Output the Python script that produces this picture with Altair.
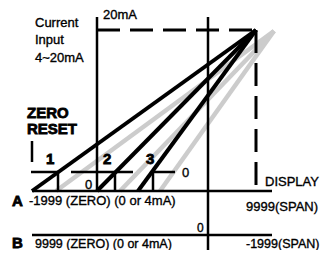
import altair as alt
import pandas as pd

# ---- diagram geometry (in diagram units) ----
axis_x1 = [97, 208, 32, 32]
axis_y1 = [17, 17, 191, 235]
axis_x2 = [97, 208, 272, 272]
axis_y2 = [191, 251, 191, 235]

zero_x1 = [31, 71, 152, 58, 115, 153, 32]
zero_y1 = [172, 172, 172, 172, 172, 172, 141]
zero_x2 = [58, 133, 175, 58, 115, 153, 32]
zero_y2 = [172, 172, 172, 191, 191, 191, 162]

dash_x1 = [97, 256]
dash_y1 = [30, 30]
dash_x2 = [256, 256]
dash_y2 = [30, 191]

black_start_x = [32, 97, 138]
black_start_y = [191, 191, 191]
black_end_x = [256, 256, 256]
black_end_y = [30, 30, 30]

gray_start_x = [56, 120, 160]
gray_start_y = [191, 191, 191]
gray_end_x = [274, 274, 274]
gray_end_y = [31, 31, 31]

plain_text = ["Current", "Input", "4~20mA", "20mA", "0", "0", "DISPLAY",
              "-1999 (ZERO) (0 or 4mA)", "9999(SPAN)", "0",
              "9999 (ZERO) (0 or 4mA)", "-1999(SPAN)"]
plain_x = [35, 35, 35, 103, 85, 182, 265, 29, 246, 197, 35, 246]
plain_y = [27, 44, 62, 19, 189, 177, 186, 205, 211, 232, 248, 248]
plain_size = [13, 13, 13, 13, 13, 13, 13, 13, 13, 12, 12.5, 12.5]

bold_text = ["ZERO", "RESET", "1", "2", "3", "A", "B"]
bold_x = [27, 27, 46, 103, 146, 12, 12]
bold_y = [118, 134, 164, 164, 164, 206, 248]

xs = alt.Scale(domain=[8, 324])
ys = alt.Scale(domain=[250, 8])


def seg_df(x1, y1, x2, y2):
    return pd.DataFrame({"x": x1, "y": y1, "x2": x2, "y2": y2})


def rules(df, **kw):
    return alt.Chart(df).mark_rule(**kw).encode(
        x=alt.X("x:Q", scale=xs, axis=None),
        y=alt.Y("y:Q", scale=ys, axis=None),
        x2="x2:Q",
        y2="y2:Q",
    )


gray = rules(seg_df(gray_start_x, gray_start_y, gray_end_x, gray_end_y),
             color="#cccccc", strokeWidth=4.5)
black = rules(seg_df(black_start_x, black_start_y, black_end_x, black_end_y),
              color="#000000", strokeWidth=4)
axes = rules(seg_df(axis_x1, axis_y1, axis_x2, axis_y2),
             color="#000000", strokeWidth=2.5)
zeros = rules(seg_df(zero_x1, zero_y1, zero_x2, zero_y2),
              color="#000000", strokeWidth=2.5)
dashes = rules(seg_df(dash_x1, dash_y1, dash_x2, dash_y2),
               color="#000000", strokeWidth=3, strokeDash=[23, 10])

plain = alt.Chart(pd.DataFrame({"t": plain_text, "x": plain_x, "y": plain_y,
                                "s": plain_size})).mark_text(
    align="left", baseline="alphabetic", font="Liberation Sans",
    color="#000000", stroke="#000000", strokeWidth=0.35).encode(
    x=alt.X("x:Q", scale=xs, axis=None),
    y=alt.Y("y:Q", scale=ys, axis=None),
    size=alt.Size("s:Q", scale=None, legend=None),
    text="t:N",
)
bold = alt.Chart(pd.DataFrame({"t": bold_text, "x": bold_x, "y": bold_y})).mark_text(
    align="left", baseline="alphabetic", font="Liberation Sans", fontSize=15,
    fontWeight="bold", color="#000000", stroke="#000000", strokeWidth=0.8).encode(
    x=alt.X("x:Q", scale=xs, axis=None),
    y=alt.Y("y:Q", scale=ys, axis=None),
    text="t:N",
)

chart = alt.layer(gray, black, axes, zeros, dashes, plain, bold).properties(
    width=316, height=242, padding=0,
    autosize=alt.AutoSizeParams(type="none"),
).configure_view(stroke=None)

chart.save("out.html", embed_options={"renderer": "svg", "actions": False})
